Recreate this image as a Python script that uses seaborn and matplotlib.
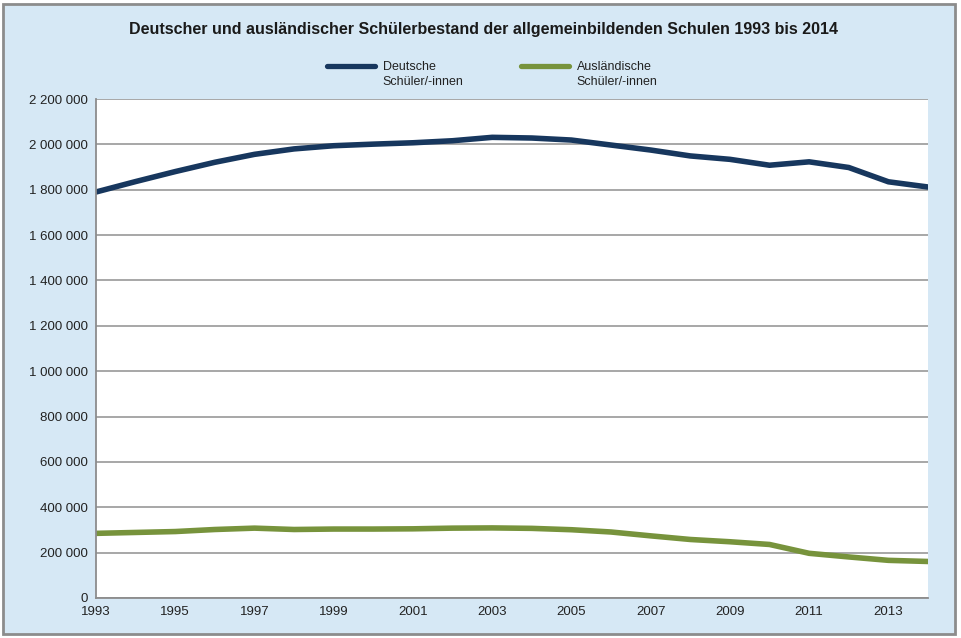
import matplotlib
matplotlib.use('Agg')
import matplotlib.pyplot as plt
import matplotlib.ticker as mticker
from matplotlib.patches import Rectangle
import pandas as pd
import seaborn as sns

years = list(range(1993, 2015))
deutsche = [1790000, 1836000, 1880000, 1921000, 1956000, 1980000, 1994000, 2001000,
            2007000, 2016000, 2031000, 2028000, 2019000, 1997000, 1975000, 1949000,
            1934000, 1908000, 1923000, 1898000, 1835000, 1812000]
auslaendische = [285000, 289000, 293000, 302000, 308000, 302000, 304000, 304000,
                 305000, 308000, 309000, 307000, 301000, 291000, 274000, 258000,
                 248000, 236000, 197000, 181000, 166000, 161000]
series_names = ['Deutsche', 'Ausländische']
second_line = 'Schüler/-innen'
colors = ['#17375E', '#77933C']
title = 'Deutscher und ausländischer Schülerbestand der allgemeinbildenden Schulen 1993 bis 2014'

df = pd.DataFrame({
    'Jahr': years * 2,
    'Schüler': deutsche + auslaendische,
    'Gruppe': [series_names[0]] * len(years) + [series_names[1]] * len(years),
})

sns.set_style('white')
plt.rcParams['font.family'] = ['Liberation Sans', 'DejaVu Sans']

bg = '#D6E8F5'
fig = plt.figure(figsize=(9.61, 6.38), dpi=100)
fig.patch.set_facecolor('white')
# light blue panel with grey frame, kept behind the axes
fig.patches.append(Rectangle((3 / 961, 4 / 638), 952 / 961, 630 / 638, transform=fig.transFigure,
                             facecolor=bg, edgecolor='#8C8C8C', linewidth=2, zorder=-10))

ax = fig.add_axes([96 / 961, 40 / 638, 832 / 961, 499 / 638])
ax.set_zorder(1)
ax.set_facecolor('white')

sns.lineplot(data=df, x='Jahr', y='Schüler', hue='Gruppe', palette=colors,
             linewidth=4, ax=ax, legend=False)

ax.set_xlim(1993, 2014)
ax.set_ylim(0, 2200000)
ax.set_xticks(years)
ax.set_xticklabels([str(y) if (y - 1993) % 2 == 0 else '' for y in years])
ax.yaxis.set_major_locator(mticker.MultipleLocator(200000))
ax.yaxis.set_major_formatter(mticker.FuncFormatter(lambda v, p: f'{int(v):,}'.replace(',', ' ')))
ax.grid(axis='y', color='#A0A0A0', linewidth=1.3)
ax.set_axisbelow(True)
for s in ['top', 'right']:
    ax.spines[s].set_visible(False)
for s in ['left', 'bottom']:
    ax.spines[s].set_color('#8C8C8C')
    ax.spines[s].set_linewidth(1.3)
ax.tick_params(axis='both', direction='out', length=4, width=1, color='#8C8C8C',
               labelsize=9.5, labelcolor='#222222', pad=2)
ax.set_xlabel('')
ax.set_ylabel('')

fig.text(0.503, 0.953, title, ha='center', va='center', fontsize=11.5,
         fontweight='bold', color='#1A1A1A')

handles = [plt.Line2D([], [], color=c, linewidth=3.8, solid_capstyle='round') for c in colors]
leg = fig.legend(handles, series_names, loc='center', bbox_to_anchor=(0.509, 0.895),
                 ncol=2, frameon=False, fontsize=9, handlelength=3.9, handletextpad=0.6,
                 columnspacing=6.8)
for t in leg.get_texts():
    t.set_color('#222222')

# second label line under each legend entry
fig.canvas.draw()
inv = fig.transFigure.inverted()
for t in leg.get_texts():
    bb = t.get_window_extent()
    x0, y0 = inv.transform((bb.x0, bb.y0))
    fig.text(x0, y0 - 0.005, second_line, ha='left', va='top', fontsize=9, color='#222222')

fig.savefig('out.png', dpi=100, facecolor=fig.get_facecolor())
